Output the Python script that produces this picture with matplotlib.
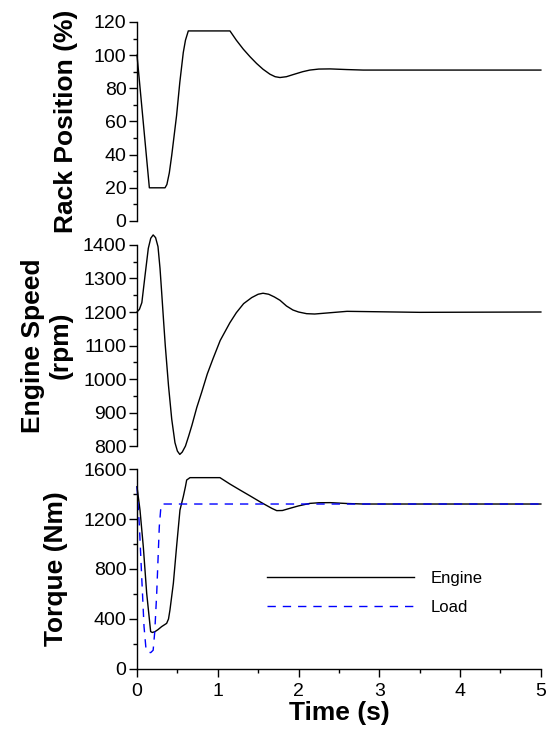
import matplotlib
matplotlib.use("Agg")
import matplotlib.pyplot as plt
from matplotlib.ticker import MultipleLocator

plt.rcParams.update({"font.family": ["Liberation Sans", "DejaVu Sans"], "font.size": 14})

# rack position (%)
rack_t = [0, 0.153, 0.347, 0.37, 0.40, 0.43, 0.49, 0.53, 0.573, 0.60, 0.635, 1.151, 1.23, 1.316,
          1.40, 1.48, 1.56, 1.646, 1.71, 1.77, 1.85, 1.935, 2.05, 2.14, 2.25, 2.39, 2.6,
          2.8, 3.2, 4.0, 5.0]
rack = [100, 20, 20, 22, 29, 39.6, 63.6, 83.6, 101.6, 109, 114.6, 114.6, 109, 103.6,
        99, 95, 91.5, 88.5, 87, 86.5, 87, 88.3, 90, 91, 91.6, 91.7, 91.3,
        91, 91, 91, 91]

# engine speed (rpm)
speed_t = [0, 0.03, 0.06, 0.10, 0.14, 0.17, 0.20, 0.23, 0.26, 0.285, 0.305, 0.33, 0.35,
           0.39, 0.43, 0.47, 0.50, 0.53, 0.56, 0.60, 0.64, 0.68, 0.74, 0.80, 0.87, 0.94,
           1.03, 1.15, 1.23, 1.32, 1.42, 1.50, 1.56, 1.63, 1.70, 1.77, 1.85, 1.93, 2.0,
           2.1, 2.2, 2.35, 2.6, 2.9, 3.5, 5.0]
speed = [1200, 1208, 1228, 1310, 1390, 1420, 1430, 1422, 1395, 1330, 1260, 1170, 1100,
         980, 880, 810, 785, 775, 782, 800, 830, 862, 915, 960, 1015, 1060,
         1115, 1168, 1198, 1225, 1243, 1253, 1256, 1253, 1245, 1235, 1218, 1206, 1200,
         1195, 1194, 1197, 1202, 1201, 1199, 1200]

# torque (Nm)
eng_t = [0, 0.037, 0.078, 0.12, 0.169, 0.19, 0.223, 0.26, 0.305, 0.367, 0.39, 0.408,
         0.45, 0.49, 0.532, 0.573, 0.60, 0.615, 0.656, 1.027, 1.15, 1.275, 1.40, 1.52,
         1.60, 1.67, 1.73, 1.80, 1.89, 2.0, 2.14, 2.25, 2.39, 2.6, 2.8, 3.0, 5.0]
eng_tq = [1459, 1272, 979, 605, 299, 292, 299, 315, 339, 365, 400, 472,
          685, 979, 1272, 1379, 1460, 1512, 1531, 1531, 1480, 1432, 1385, 1339,
          1310, 1285, 1267, 1268, 1285, 1305, 1325, 1330, 1331, 1324, 1320, 1320, 1320]
load_t = [0, 0.03, 0.058, 0.087, 0.11, 0.13, 0.17, 0.20, 0.22, 0.244, 0.276, 0.295, 0.31, 5.0]
load_tq = [1459, 1139, 739, 339, 170, 135, 131, 150, 300, 605, 1139, 1290, 1320, 1320]

fig = plt.figure(figsize=(5.48, 7.30), dpi=100)
left, width = 0.25, 0.737
ax1 = fig.add_axes([left, 0.6973, width, 0.2726])
ax2 = fig.add_axes([left, 0.389, width, 0.2754])
ax3 = fig.add_axes([left, 0.0836, width, 0.2739])

ax1.plot(rack_t, rack, color="black", lw=1.0, clip_on=False)
ax2.plot(speed_t, speed, color="black", lw=1.0, clip_on=False)
ax3.plot(eng_t, eng_tq, color="black", lw=1.0, label="Engine", clip_on=False)
ax3.plot(load_t, load_tq, color="blue", lw=1.0, dashes=(6, 5), label="Load", clip_on=False)

ax1.set_ylim(0, 120)
ax1.yaxis.set_major_locator(MultipleLocator(20))
ax1.yaxis.set_minor_locator(MultipleLocator(10))
ax2.set_ylim(800, 1400)
ax2.yaxis.set_major_locator(MultipleLocator(100))
ax2.yaxis.set_minor_locator(MultipleLocator(50))
ax3.set_ylim(0, 1600)
ax3.yaxis.set_major_locator(MultipleLocator(400))
ax3.yaxis.set_minor_locator(MultipleLocator(200))

for ax in (ax1, ax2, ax3):
    ax.set_xlim(0, 5)
    ax.patch.set_visible(False)
    for s in ("top", "right"):
        ax.spines[s].set_visible(False)
    ax.spines["left"].set_linewidth(1.0)
    ax.spines["bottom"].set_linewidth(1.0)
    ax.tick_params(which="major", direction="out", length=6, width=1.0, pad=1.5)
    ax.tick_params(which="minor", direction="out", length=3, width=1.0)

for ax in (ax1, ax2):
    ax.spines["bottom"].set_visible(False)
    ax.tick_params(axis="x", which="both", bottom=False, labelbottom=False)

ax3.xaxis.set_major_locator(MultipleLocator(1))
ax3.xaxis.set_minor_locator(MultipleLocator(0.5))
ax3.tick_params(axis="x", pad=4)

lab = {"fontsize": 19, "fontweight": "bold"}
ax1.set_ylabel("Rack Position (%)", **lab)
ax2.set_ylabel("Engine Speed\n(rpm)", **lab)
ax3.set_ylabel("Torque (Nm)", **lab)
ax3.set_xlabel("Time (s)", labelpad=1, **lab)
ax1.yaxis.set_label_coords(-0.145, 0.5)
ax2.yaxis.set_label_coords(-0.16, 0.5)
ax3.yaxis.set_label_coords(-0.172, 0.5)

ax3.legend(loc="center left", bbox_to_anchor=(0.285, 0.38), frameon=False, fontsize=12,
           handlelength=8.8, handletextpad=1.0, labelspacing=0.8)

fig.savefig("out.png", dpi=100)
